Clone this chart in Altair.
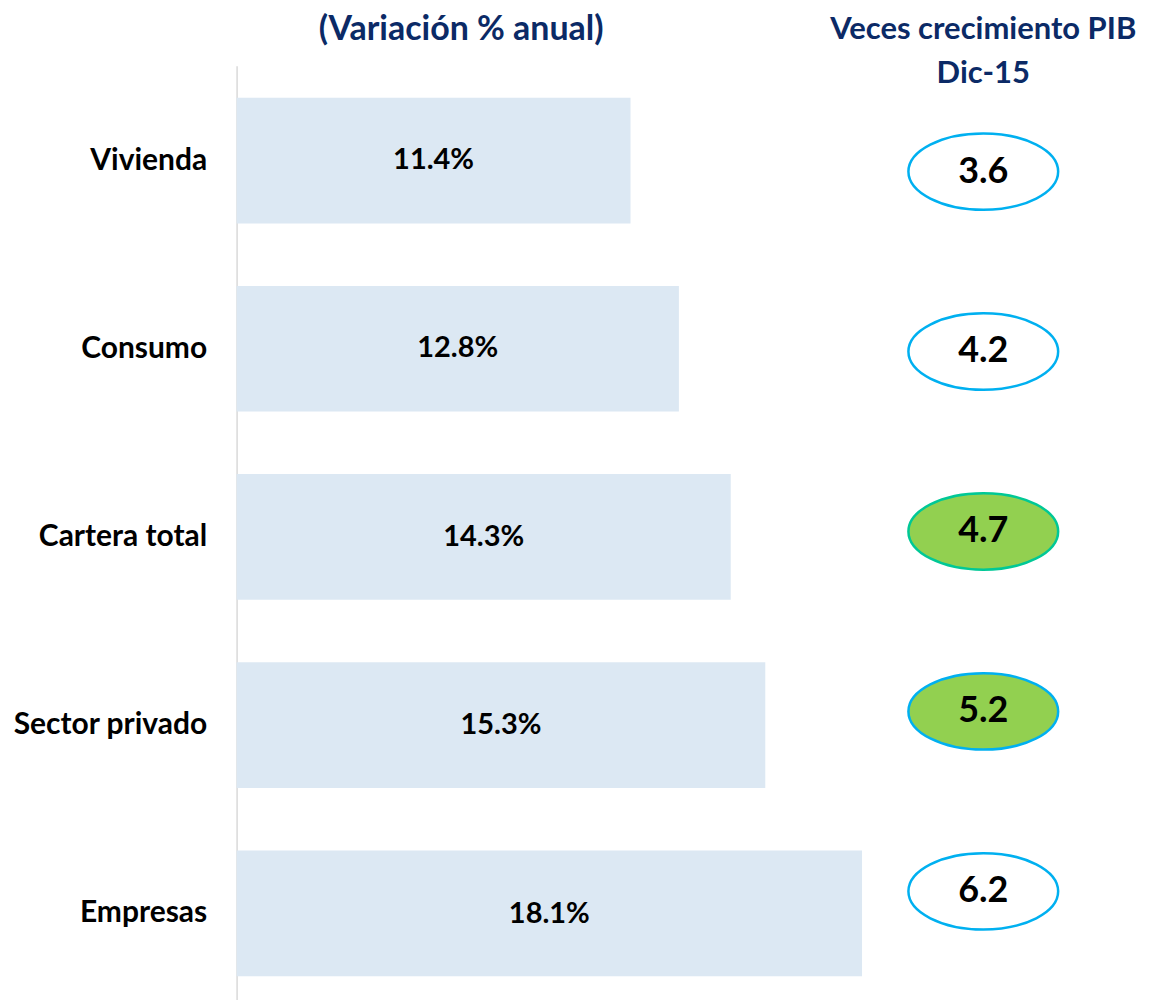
import altair as alt
import pandas as pd

categorias = ["Vivienda", "Consumo", "Cartera total", "Sector privado", "Empresas"]
variacion = [11.4, 12.8, 14.3, 15.3, 18.1]
etiquetas_var = ["11.4%", "12.8%", "14.3%", "15.3%", "18.1%"]
veces_pib = [3.6, 4.2, 4.7, 5.2, 6.2]
grupo = ["normal", "normal", "total", "destacado", "normal"]
titulo_izq = "(Variación % anual)"
titulo_der = ["Veces crecimiento PIB", "Dic-15"]

df = pd.DataFrame({
    "categoria": categorias,
    "variacion": variacion,
    "etiqueta": etiquetas_var,
    "veces": [f"{v:.1f}" for v in veces_pib],
    "grupo": grupo,
})

FONT = "Lato"
NAVY = "#0B2A66"

y_bar = alt.Y("categoria:N", sort=categorias, title=None,
              scale=alt.Scale(range=[0, 944], paddingInner=0.332, paddingOuter=0.17),
              axis=alt.Axis(domainColor="#D9D9D9", domainWidth=1.5, ticks=False,
                            labelPadding=30, labelFontSize=30, labelFontWeight="bold",
                            labelFont=FONT, labelColor="#000000", labelLimit=400))
x_bar = alt.X("variacion:Q", title=None, axis=None,
              scale=alt.Scale(domain=[0, 26], nice=False))

base = alt.Chart(df)

bars = base.mark_bar(color="#DCE8F3").encode(x=x_bar, y=y_bar)

bar_text = base.mark_text(font=FONT, fontSize=29, fontWeight="bold", color="#000000").encode(
    x=alt.X("mid:Q", scale=alt.Scale(domain=[0, 26], nice=False), axis=None),
    y=alt.Y("categoria:N", sort=categorias, axis=None,
            scale=alt.Scale(range=[0, 944], paddingInner=0.332, paddingOuter=0.17)),
    text="etiqueta:N",
).transform_calculate(mid="datum.variacion / 2")

y_pt = alt.Y("categoria:N", sort=categorias, axis=None, title=None,
             scale=alt.Scale(type="point", range=[106, 827], padding=0))

ellipse_path = "M -1 0 A 1 0.51 0 1 1 1 0 A 1 0.51 0 1 1 -1 0 Z"

ellipses = base.mark_point(shape=ellipse_path, size=22500, filled=False, strokeWidth=2.5, opacity=1).encode(
    x=alt.value(748),
    y=y_pt,
    fill=alt.Fill("grupo:N", legend=None,
                  scale=alt.Scale(domain=["normal", "total", "destacado"],
                                  range=["#FFFFFF", "#92D050", "#92D050"])),
    stroke=alt.Stroke("grupo:N", legend=None,
                      scale=alt.Scale(domain=["normal", "total", "destacado"],
                                      range=["#00B0F0", "#00C896", "#00B0F0"])),
)

ell_text = base.mark_text(font=FONT, fontSize=36, fontWeight="bold", color="#000000").encode(
    x=alt.value(748),
    y=y_pt,
    text="veces:N",
)

head_df = pd.DataFrame({"t": [titulo_izq]})
head1 = alt.Chart(head_df).mark_text(font=FONT, fontSize=34, fontWeight="bold", color=NAVY,
                                     baseline="middle").encode(
    x=alt.value(225), y=alt.value(-36), text="t:N")

head2 = alt.Chart(pd.DataFrame({"t": [titulo_der]})).mark_text(
    font=FONT, fontSize=31, fontWeight="bold", color=NAVY, lineHeight=44, baseline="middle").encode(
    x=alt.value(748), y=alt.value(-36), text="t")

chart = alt.layer(bars, bar_text, ellipses, ell_text, head1, head2).resolve_scale(
    y="independent"
).properties(
    width=900, height=935,
    padding={"left": 229, "top": 57, "right": 12, "bottom": 0},
    autosize=alt.AutoSizeParams(type="none"),
).configure_view(stroke=None)

chart.save("out.html", embed_options={"renderer": "svg", "actions": False})
